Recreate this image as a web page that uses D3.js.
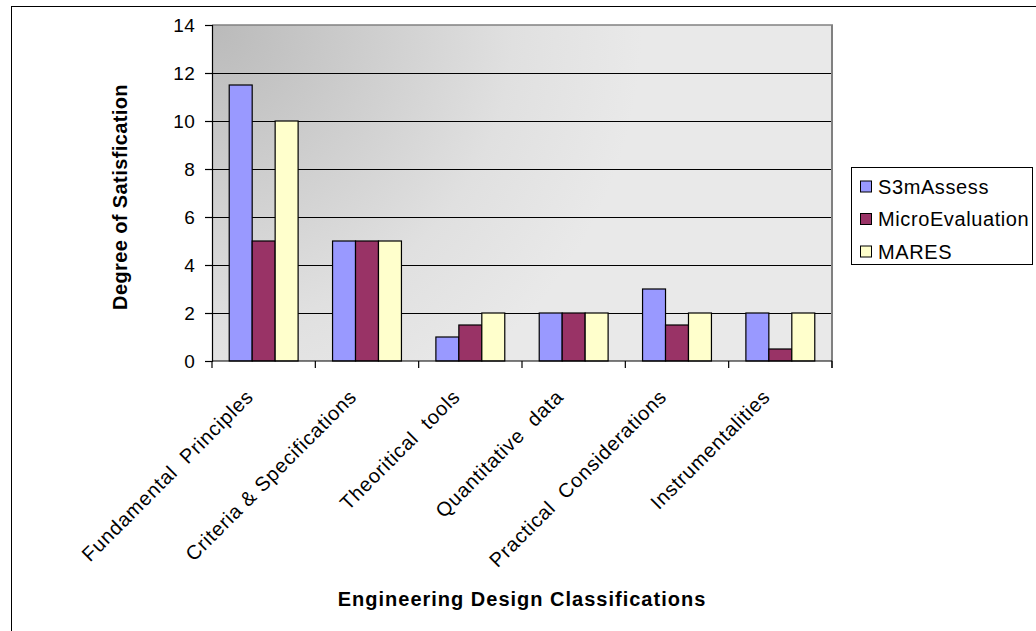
<!DOCTYPE html>
<html>
<head>
<meta charset="utf-8">
<script src="https://cdn.jsdelivr.net/npm/d3@7"></script>
<style>
  html, body { margin: 0; padding: 0; background: #fff; }
  svg { display: block; }
  text { font-family: "Liberation Sans", Arial, sans-serif; fill: #000; }
</style>
</head>
<body>
<svg id="chart" width="1036" height="631"></svg>
<script>
const categories = ["Fundamental  Principles", "Criteria & Specifications", "Theoritical  tools",
                    "Quantitative  data", "Practical  Considerations", "Instrumentalities"];
const seriesNames = ["S3mAssess", "MicroEvaluation", "MARES"];
const s3mAssess = [11.5, 5, 1, 2, 3, 2];
const microEvaluation = [5, 5, 1.5, 2, 1.5, 0.5];
const mares = [10, 5, 2, 2, 2, 2];
const yTicks = [0, 2, 4, 6, 8, 10, 12, 14];
const colors = ["#9999FF", "#993366", "#FFFFCC"];

const seriesValues = [s3mAssess, microEvaluation, mares];
const rows = categories.map((c, i) => ({
  cat: c,
  vals: seriesNames.map((s, j) => ({ key: s, value: seriesValues[j][i], color: colors[j] }))
}));

const svg = d3.select("#chart");
const plot = { left: 212, right: 832, top: 25, bottom: 361 };

// outer frame
svg.append("rect").attr("x", 11.5).attr("y", 6.5).attr("width", 1100).attr("height", 700)
  .attr("fill", "#fff").attr("stroke", "#000").attr("stroke-width", 1);

const x0 = d3.scaleBand().domain(categories).range([plot.left, plot.right]).padding(0);
const x1 = d3.scaleBand().domain(seriesNames).range([0, x0.bandwidth()]).paddingInner(0).paddingOuter(0.75);
const y = d3.scaleLinear().domain([0, 14]).range([plot.bottom, plot.top]);

// background gradient
const defs = svg.append("defs");
const grad = defs.append("radialGradient").attr("id", "bg")
  .attr("gradientUnits", "userSpaceOnUse")
  .attr("cx", plot.left).attr("cy", plot.top).attr("r", 430)
  .attr("fx", plot.left).attr("fy", plot.top);
grad.append("stop").attr("offset", "0%").attr("stop-color", "#bababa");
grad.append("stop").attr("offset", "70%").attr("stop-color", "#e0e0e0");
grad.append("stop").attr("offset", "100%").attr("stop-color", "#e9e9e9");

svg.append("rect").attr("x", plot.left).attr("y", plot.top)
  .attr("width", plot.right - plot.left).attr("height", plot.bottom - plot.top)
  .attr("fill", "url(#bg)");

// gridlines
const grid = svg.append("g").attr("transform", `translate(${plot.left},0)`)
  .call(d3.axisLeft(y).tickValues(yTicks.filter(t => t > 0 && t < 14))
    .tickSize(-(plot.right - plot.left)).tickFormat(""));
grid.select(".domain").remove();
grid.selectAll("line").attr("stroke", "#000").attr("stroke-width", 1);

// top & right border (gray)
svg.append("line").attr("x1", plot.left).attr("x2", plot.right + 1)
  .attr("y1", y(14)).attr("y2", y(14)).attr("stroke", "#808080").attr("stroke-width", 1.5);
svg.append("line").attr("x1", plot.right).attr("x2", plot.right)
  .attr("y1", y(14)).attr("y2", plot.bottom + 7).attr("stroke", "#808080").attr("stroke-width", 2);

// bars
const groups = svg.append("g").selectAll("g").data(rows).join("g")
  .attr("transform", d => `translate(${x0(d.cat)},0)`);
groups.selectAll("rect").data(d => d.vals).join("rect")
  .attr("x", d => x1(d.key))
  .attr("width", x1.bandwidth())
  .attr("y", d => y(d.value))
  .attr("height", d => y(0) - y(d.value))
  .attr("fill", d => d.color)
  .attr("stroke", "#000").attr("stroke-width", 1.2);

// y axis
const yAxis = svg.append("g").attr("transform", `translate(${plot.left},0)`)
  .call(d3.axisLeft(y).tickValues(yTicks).tickSize(7).tickPadding(10).tickFormat(d3.format("d")));
yAxis.select(".domain").attr("stroke", "#000").attr("stroke-width", 1.2);
yAxis.selectAll("line").attr("stroke", "#000").attr("stroke-width", 1.2);
yAxis.selectAll("text").style("font-size", "19px").style("font-family", "Liberation Sans, Arial, sans-serif")
  .style("letter-spacing", "0.3px").attr("fill", "#000");

// x axis line + boundary ticks
const boundaries = categories.map(c => x0(c)).concat([x0.range()[1]]);
svg.append("line").attr("x1", plot.left).attr("x2", plot.right)
  .attr("y1", plot.bottom).attr("y2", plot.bottom).attr("stroke", "#000").attr("stroke-width", 1.2);
svg.append("g").selectAll("line").data(boundaries).join("line")
  .attr("x1", d => d).attr("x2", d => d)
  .attr("y1", plot.bottom).attr("y2", plot.bottom + 7)
  .attr("stroke", "#000").attr("stroke-width", 1.2);

// x category labels
svg.append("g").selectAll("text").data(categories).join("text")
  .attr("transform", d => `translate(${x0(d) + x0.bandwidth() / 2 - 9},${plot.bottom + 37}) rotate(-45)`)
  .attr("text-anchor", "end")
  .style("font-size", "20px").style("letter-spacing", "0.8px").style("white-space", "pre")
  .text(d => d);

// axis titles
svg.append("text").attr("x", 522).attr("y", 606).attr("text-anchor", "middle")
  .style("font-size", "20px").style("font-weight", "bold").style("letter-spacing", "1px")
  .text("Engineering Design Classifications");
svg.append("text").attr("transform", `translate(127,197) rotate(-90)`).attr("text-anchor", "middle")
  .style("font-size", "20px").style("font-weight", "bold").style("letter-spacing", "0.4px")
  .text("Degree of Satisfication");

// legend
const legend = svg.append("g");
legend.append("rect").attr("x", 851.5).attr("y", 167.5).attr("width", 181).attr("height", 97)
  .attr("fill", "#fff").attr("stroke", "#000").attr("stroke-width", 1);
const li = legend.selectAll("g.item").data(seriesNames).join("g").attr("class", "item")
  .attr("transform", (d, i) => `translate(0,${193.5 + i * 32.5})`);
li.append("rect").attr("x", 860.5).attr("y", -12.5).attr("width", 11).attr("height", 11)
  .attr("fill", (d, i) => colors[i]).attr("stroke", "#000").attr("stroke-width", 1);
li.append("text").attr("x", 878).attr("y", 0)
  .style("font-size", "20px").style("letter-spacing", "0.6px")
  .text(d => d);
</script>
</body>
</html>
